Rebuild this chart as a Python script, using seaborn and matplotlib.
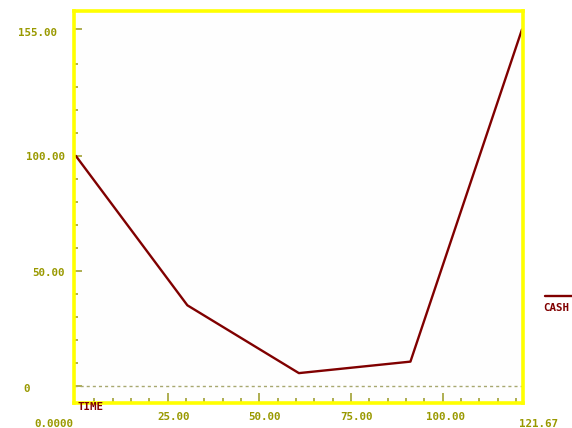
import matplotlib
matplotlib.use("Agg")
import matplotlib.pyplot as plt
from matplotlib.transforms import ScaledTranslation
from matplotlib.lines import Line2D
import seaborn as sns
import pandas as pd

# Simulated cash balance over time (days)
time_days = [0.0, 30.42, 60.83, 91.25, 121.67]
cash = [100.0, 35.0, 5.5, 10.5, 155.0]

y_major = [0, 50, 100, 155]
y_labels = ["0", "50.00", "100.00", "155.00"]
y_minor = [10, 20, 30, 40, 60, 70, 80, 90, 110, 120, 130, 140]
x_major = [25, 50, 75, 100]
x_labels = ["25.00", "50.00", "75.00", "100.00"]
x_minor = [5, 10, 15, 20, 30, 35, 40, 45, 55, 60, 65, 70, 80, 85, 90, 95, 105, 110, 115, 120]
x_start_label = "0.0000"
x_end_label = "121.67"

FRAME = "#ffff00"
OLIVE = "#999900"
TICK = "#999922"
DASH = "#a8a870"
SERIES = "#800000"

sns.set_style("white")
plt.rcParams["font.family"] = ["DejaVu Sans Mono", "DejaVu Sans"]
plt.rcParams["font.weight"] = "bold"
plt.rcParams["xtick.color"] = TICK
plt.rcParams["ytick.color"] = TICK

W, H = 572, 428
fig = plt.figure(figsize=(W / 100, H / 100), dpi=100)
fig.patch.set_facecolor("white")

# axes frame in pixel coordinates
left, right, top, bottom = 74, 523, 11.3, 403
ax = fig.add_axes([left / W, 1 - bottom / H, (right - left) / W, (bottom - top) / H])
ax.set_facecolor("#fefefe")

df = pd.DataFrame({"TIME": time_days, "CASH": cash})
sns.lineplot(data=df, x="TIME", y="CASH", ax=ax, color=SERIES, lw=1.7,
             legend=False, zorder=3)
ax.axhline(0, color=DASH, lw=1.0, ls=(0, (2.2, 2.2)), zorder=2)

ax.set_xlim(-0.5, 121.95)
ax.set_ylim(-7.5, 162.9)
ax.set_xlabel("")
ax.set_ylabel("")

for s in ax.spines.values():
    s.set_color(FRAME)
    s.set_linewidth(2.6)
    s.set_zorder(4)

fs = 7.8
ax.set_yticks(y_major, y_labels)
ax.set_yticks(y_minor, minor=True)
ax.set_xticks(x_major, x_labels)
ax.set_xticks(x_minor, minor=True)
ax.tick_params(axis="both", which="both", left=True, bottom=True,
               right=False, top=False)
ax.tick_params(axis="y", which="major", direction="in", length=6, width=1.1,
               color=TICK, pad=6.5, labelsize=fs, labelcolor=OLIVE)
ax.tick_params(axis="y", which="minor", direction="in", length=3.2, width=1.1,
               color=TICK)
ax.tick_params(axis="x", which="major", direction="in", length=7, width=1.1,
               color=TICK, pad=6.8, labelsize=fs, labelcolor=OLIVE)
ax.tick_params(axis="x", which="minor", direction="in", length=3.5, width=1.1,
               color=TICK)

px = 72 / 100  # points per pixel


def shift(label, dx, dy):
    label.set_transform(label.get_transform() +
                        ScaledTranslation(dx * px / 72, -dy * px / 72, fig.dpi_scale_trans))


for lab in ax.get_xticklabels():
    lab.set_ha("right")
    shift(lab, 22, 0)

y_shift = {"0": (-35, 2), "50.00": (0, 1), "100.00": (0, 0.5), "155.00": (-8, 3)}
for lab in ax.get_yticklabels():
    dx, dy = y_shift[lab.get_text()]
    shift(lab, dx, dy)


def ftext(x, y, s, color, **kw):
    fig.text(x / W, 1 - y / H, s, color=color, fontsize=fs, fontweight="bold",
             ha="center", va="center", **kw)


# range labels at the ends of the time axis
ftext(53.7, 424, x_start_label, OLIVE)
ftext(538.8, 424.3, x_end_label, OLIVE)
ftext(91, 406.5, "TIME", SERIES, zorder=5)

# series key at the right
fig.add_artist(Line2D([545 / W, 572 / W], [1 - 296 / H, 1 - 296 / H],
                      color=SERIES, lw=1.7))
ftext(556, 308, "CASH", SERIES)

fig.savefig("out.png", dpi=100, facecolor="white")
